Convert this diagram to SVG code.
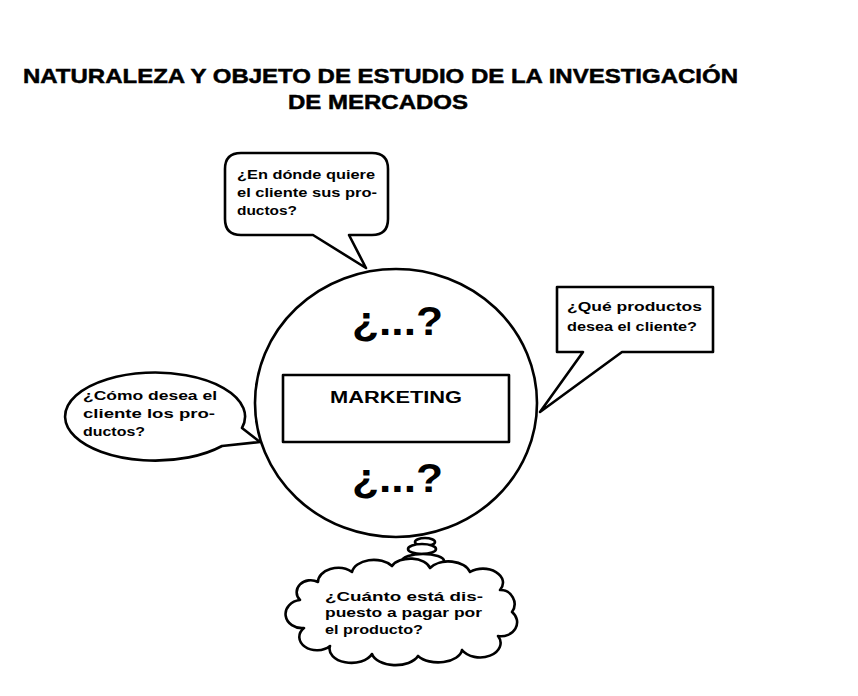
<svg xmlns="http://www.w3.org/2000/svg" width="858" height="696" viewBox="0 0 858 696">
<style>
.ln{fill:#fff;stroke:#000;stroke-width:2.6;stroke-linejoin:round;stroke-linecap:round}
.t{font-family:"Liberation Sans",Arial,sans-serif;font-weight:bold;fill:#000}
.title{font-size:21px;stroke:#000;stroke-width:0.5}
.s{font-size:12px}
.m{font-size:13px}
.q{font-size:40px}
</style>
<rect width="858" height="696" fill="#fff"/>
<g id="title">
<text class="t title" x="23" y="83" textLength="715" lengthAdjust="spacingAndGlyphs">NATURALEZA Y OBJETO DE ESTUDIO DE LA INVESTIGACIÓN</text>
<text class="t title" x="288" y="109" textLength="180" lengthAdjust="spacingAndGlyphs">DE MERCADOS</text>
</g>
<g id="connectors">
<ellipse class="ln" cx="425" cy="542" rx="10" ry="4"/>
<ellipse class="ln" cx="422" cy="549" rx="14" ry="5"/>
<ellipse class="ln" cx="423" cy="561" rx="21" ry="7"/>
</g>
<g id="node-marketing">
<ellipse class="ln" cx="396" cy="403" rx="141" ry="134"/>
<rect class="ln" x="283" y="375" width="226" height="67"/>
<text class="t" x="396" y="403" font-size="16" text-anchor="middle" textLength="132" lengthAdjust="spacingAndGlyphs">MARKETING</text>
<text class="t q" x="352" y="335" textLength="91" lengthAdjust="spacingAndGlyphs">¿...?</text>
<text class="t q" x="352" y="492" textLength="91" lengthAdjust="spacingAndGlyphs">¿...?</text>
</g>
<g id="bubble-top">
<path class="ln" d="M 241,153 H 372 Q 388,153 388,169 V 219 Q 388,235 372,235 H 349 L 366,268 L 313,235 H 241 Q 225,235 225,219 V 169 Q 225,153 241,153 Z"/>
<text class="t s" x="237" y="179" textLength="138" lengthAdjust="spacingAndGlyphs">¿En dónde quiere</text>
<text class="t s" x="237" y="197" textLength="140" lengthAdjust="spacingAndGlyphs">el cliente sus pro-</text>
<text class="t s" x="237" y="215" textLength="60" lengthAdjust="spacingAndGlyphs">ductos?</text>
</g>
<g id="bubble-right">
<path class="ln" d="M 557,287 H 713 V 352 H 622 L 540,412 L 583,352 H 557 Z"/>
<text class="t m" x="567" y="311" textLength="135" lengthAdjust="spacingAndGlyphs">¿Qué productos</text>
<text class="t m" x="567" y="331" textLength="130" lengthAdjust="spacingAndGlyphs">desea el cliente?</text>
</g>
<g id="bubble-left">
<path class="ln" d="M 242,428 L 260,442 L 222,446 A 90 44 0 1 1 242,428 Z"/>
<text class="t m" x="83" y="400" textLength="134" lengthAdjust="spacingAndGlyphs">¿Cómo desea el</text>
<text class="t m" x="83" y="418" textLength="132" lengthAdjust="spacingAndGlyphs">cliente los pro-</text>
<text class="t m" x="83" y="436" textLength="62" lengthAdjust="spacingAndGlyphs">ductos?</text>
</g>
<g id="cloud-bottom">
<path class="ln" d="M 300,600 A 14 12 0 0 1 318,582 A 20 14 0 0 1 352,572 A 22 14 0 0 1 392,566 A 20 12 0 0 1 430,568 A 22 14 0 0 1 470,572 A 20 14 0 0 1 500,590 A 14 14 0 0 1 512,612 A 16 14 0 0 1 498,636 A 20 14 0 0 1 462,650 A 24 14 0 0 1 418,656 A 24 14 0 0 1 372,654 A 22 14 0 0 1 330,646 A 16 12 0 0 1 304,628 A 14 12 0 0 1 300,600 Z"/>
<text class="t m" x="325" y="601" textLength="158" lengthAdjust="spacingAndGlyphs">¿Cuánto está dis-</text>
<text class="t m" x="325" y="617" textLength="157" lengthAdjust="spacingAndGlyphs">puesto a pagar por</text>
<text class="t m" x="325" y="634" textLength="98" lengthAdjust="spacingAndGlyphs">el producto?</text>
</g>
</svg>
